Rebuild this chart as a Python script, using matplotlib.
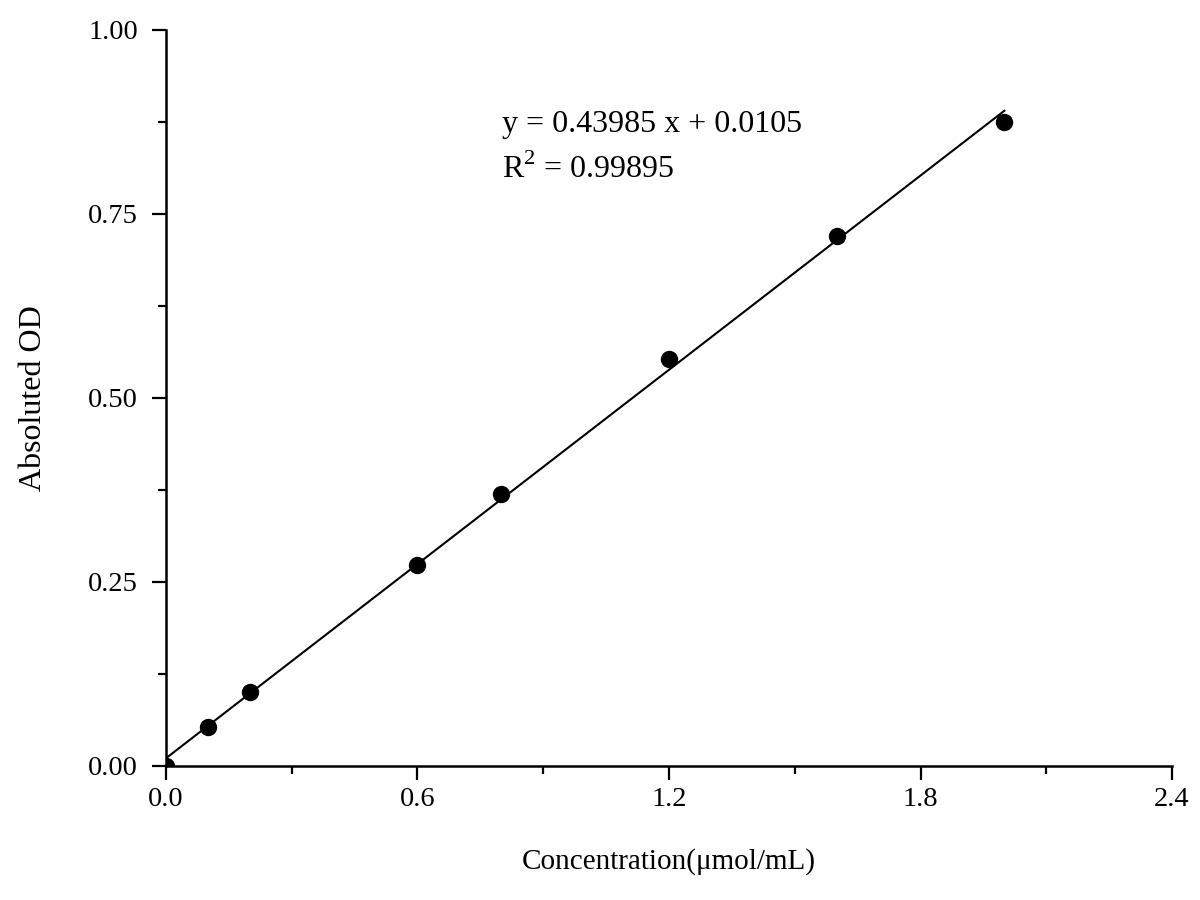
import numpy as np
import matplotlib
matplotlib.use("Agg")
import matplotlib.pyplot as plt
from matplotlib.ticker import MultipleLocator

plt.rcParams['font.family'] = ['Liberation Serif', 'DejaVu Serif']
plt.rcParams['mathtext.fontset'] = 'custom'
plt.rcParams['mathtext.rm'] = 'Liberation Serif'

# Standard curve data
concentration = [0.0, 0.1, 0.2, 0.6, 0.8, 1.2, 1.6, 2.0]
absorbance = [0.0, 0.053, 0.100, 0.273, 0.370, 0.553, 0.720, 0.875]

slope = 0.43985
intercept = 0.0105
r_squared = 0.99895

fig = plt.figure(figsize=(12, 9), dpi=100)
ax = fig.add_axes([0.1383, 0.1489, 0.8384, 0.8178])

# fitted line
x_fit = np.array([0.0, 2.0])
ax.plot(x_fit, slope * x_fit + intercept, color='black', linewidth=1.5)

# measured points
ax.plot(concentration, absorbance, 'o', color='black', markersize=11.5)

ax.set_xlim(0, 2.4)
ax.set_ylim(0, 1.0)
ax.xaxis.set_major_locator(MultipleLocator(0.6))
ax.xaxis.set_minor_locator(MultipleLocator(0.3))
ax.yaxis.set_major_locator(MultipleLocator(0.25))
ax.yaxis.set_minor_locator(MultipleLocator(0.125))
ax.xaxis.set_major_formatter(plt.FormatStrFormatter('%.1f'))
ax.yaxis.set_major_formatter(plt.FormatStrFormatter('%.2f'))

ax.spines['top'].set_visible(False)
ax.spines['right'].set_visible(False)
for s in ['left', 'bottom']:
    ax.spines[s].set_linewidth(1.8)

ax.tick_params(which='major', direction='out', length=10, width=1.6, labelsize=20.5)
ax.tick_params(which='minor', direction='out', length=5.5, width=1.6)
ax.tick_params(axis='y', which='major', pad=10)
ax.tick_params(axis='x', which='major', pad=5)

ax.set_xlabel('Concentration(μmol/mL)', fontsize=21, labelpad=26)
ax.set_ylabel('Absoluted OD', fontsize=23, labelpad=29)

ax.text(0.334, 0.871, 'y = %.5f x + %.4f' % (slope, intercept),
        transform=ax.transAxes, fontsize=23, va='center', ha='left')
ax.text(0.334, 0.810, 'R$^2$ = %.5f' % r_squared,
        transform=ax.transAxes, fontsize=23, va='center', ha='left')

fig.savefig('out.png', dpi=100)
